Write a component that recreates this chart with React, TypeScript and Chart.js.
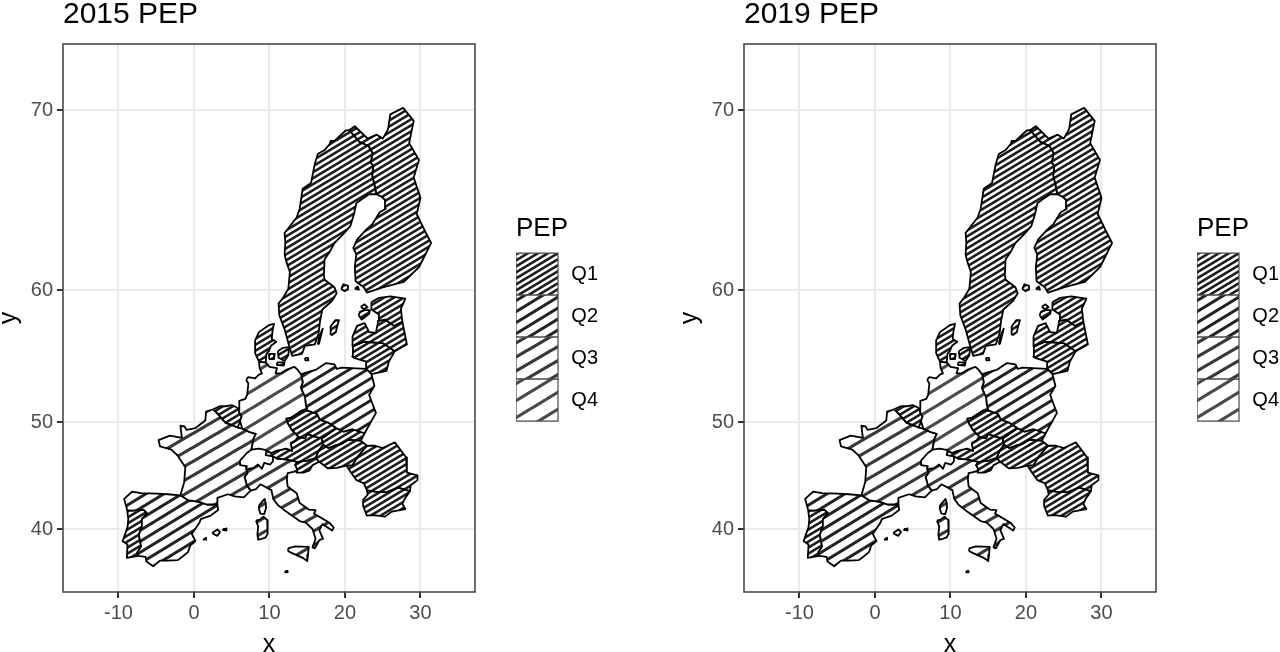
import React, { useEffect, useRef } from "react";
import { Chart, registerables } from "chart.js";

Chart.register(...registerables);

type Pt = [number, number];

const sweden: Pt[] = [[20.55,69.06],[21.9,68.5],[23.1,68.3],[23.65,67.95],[23.4,67.45],[23.75,67.3],[23.6,66.8],[23.9,66.3],[24.15,65.8],[23.2,65.8],[22.3,65.55],[21.5,65.3],[21.2,64.7],[20.7,64.0],[19.7,63.5],[18.6,63.0],[17.9,62.4],[17.3,62.0],[17.2,61.0],[17.3,60.7],[18.6,60.2],[18.9,59.8],[18.3,59.3],[17.0,58.7],[16.7,57.9],[16.5,57.0],[16.0,56.2],[14.7,56.1],[14.3,55.5],[13.0,55.35],[12.6,56.1],[12.0,57.3],[11.3,58.3],[11.2,59.1],[11.8,59.5],[12.5,60.1],[12.7,61.2],[12.2,61.9],[12.0,62.3],[12.1,63.0],[12.0,63.6],[13.6,64.5],[14.0,65.0],[14.4,66.1],[15.5,66.4],[16.0,67.4],[16.4,67.9],[17.3,68.1],[18.0,68.4],[18.1,68.55],[18.6,68.55],[20.1,69.05]];
const gotland: Pt[] = [[18.1,56.9],[18.1,57.5],[18.7,57.95],[19.2,57.95],[18.9,57.4],[18.8,57.1],[18.3,56.9]];
const oland: Pt[] = [[16.4,56.2],[16.6,56.8],[17.05,57.35],[16.8,56.8],[16.55,56.25]];
const finland: Pt[] = [[20.55,69.06],[21.3,69.25],[23.0,68.66],[24.2,68.85],[25.0,68.66],[25.7,69.1],[26.0,69.8],[27.7,70.1],[29.1,69.5],[28.5,68.44],[29.8,67.6],[29.1,66.7],[30.0,65.6],[29.5,64.7],[30.5,63.8],[31.4,63.0],[29.8,61.5],[27.8,60.55],[26.5,60.4],[25.0,60.2],[23.5,59.95],[22.9,59.85],[22.5,60.2],[21.4,60.6],[21.3,61.5],[21.5,62.3],[21.1,62.7],[21.6,63.2],[22.8,63.8],[23.6,64.1],[24.6,64.8],[25.4,65.0],[25.3,65.5],[24.7,65.7],[24.15,65.8],[23.9,66.3],[23.6,66.8],[23.75,67.3],[23.4,67.45],[23.65,67.95],[23.1,68.3],[21.9,68.5]];
const aland: Pt[] = [[19.5,60.1],[19.8,60.4],[20.4,60.3],[20.4,60.05],[19.9,59.95]];
const turku: Pt[] = [[21.3,60.1],[21.7,60.25],[21.85,60.05]];
const jutland: Pt[] = [[8.6,54.9],[8.1,55.55],[8.1,56.5],[8.6,57.1],[9.9,57.6],[10.6,57.7],[10.4,57.2],[10.3,56.6],[10.9,56.4],[10.2,56.1],[9.9,55.7],[9.6,55.5],[9.5,54.85]];
const zealand: Pt[] = [[11.1,55.7],[11.8,55.95],[12.6,56.0],[12.5,55.4],[12.0,54.95],[11.2,55.2]];
const funen: Pt[] = [[9.9,55.5],[10.7,55.5],[10.6,55.1],[10.0,55.1]];
const lolland: Pt[] = [[11.0,54.85],[12.0,54.85],[11.9,54.6],[11.1,54.65]];
const bornholm: Pt[] = [[14.7,55.2],[15.1,55.2],[15.15,55.0],[14.75,55.0]];
const germany: Pt[] = [[6.9,53.5],[7.2,53.7],[8.1,53.6],[8.6,53.9],[9.0,54.0],[8.7,54.4],[8.6,54.9],[9.5,54.85],[10.0,54.5],[11.0,54.4],[10.8,54.0],[11.5,54.0],[12.3,54.3],[13.3,54.5],[13.7,54.3],[14.2,53.9],[14.4,53.3],[14.15,52.85],[14.7,52.1],[14.8,51.5],[15.0,51.0],[14.3,51.0],[12.9,50.4],[12.2,50.3],[12.5,49.8],[13.0,49.3],[13.8,48.75],[13.4,48.4],[12.8,48.2],[13.0,47.5],[12.2,47.7],[10.9,47.5],[10.2,47.3],[9.6,47.55],[8.6,47.7],[7.6,47.6],[7.9,48.6],[8.2,49.0],[7.4,49.15],[6.4,49.45],[6.1,50.1],[6.3,50.5],[6.0,50.8],[6.0,51.8],[6.8,51.95],[7.05,52.3],[7.2,53.2]];
const poland: Pt[] = [[14.2,53.9],[14.5,54.0],[16.2,54.3],[17.5,54.8],[18.6,54.7],[18.9,54.35],[19.6,54.45],[22.8,54.35],[23.5,53.95],[23.9,53.0],[23.2,52.3],[23.6,51.6],[24.1,50.8],[22.6,49.05],[21.0,49.4],[19.8,49.2],[18.85,49.5],[17.7,50.0],[16.7,50.2],[16.3,50.7],[15.0,51.0],[14.8,51.5],[14.7,52.1],[14.15,52.85],[14.4,53.3]];
const czechia: Pt[] = [[12.2,50.3],[12.9,50.4],[14.3,51.0],[15.0,51.0],[16.3,50.7],[16.7,50.2],[17.7,50.0],[18.85,49.5],[17.5,48.85],[16.9,48.6],[16.0,48.75],[15.0,49.0],[14.7,48.6],[13.8,48.75],[13.0,49.3],[12.5,49.8]];
const slovakia: Pt[] = [[18.85,49.5],[19.8,49.2],[21.0,49.4],[22.6,49.05],[22.1,48.4],[20.5,48.5],[19.5,48.1],[18.8,48.0],[17.8,47.75],[17.1,48.05],[16.9,48.6],[17.5,48.85]];
const austria: Pt[] = [[9.6,47.55],[10.2,47.3],[10.9,47.5],[12.2,47.7],[13.0,47.5],[12.8,48.2],[13.4,48.4],[13.8,48.75],[14.7,48.6],[15.0,49.0],[16.0,48.75],[16.9,48.6],[17.1,48.05],[16.5,47.5],[16.1,46.85],[15.0,46.6],[13.7,46.5],[12.4,46.7],[11.0,46.8],[10.45,47.0],[9.5,47.1]];
const hungary: Pt[] = [[16.1,46.85],[16.5,47.5],[17.1,48.05],[17.8,47.75],[18.8,48.0],[19.5,48.1],[20.5,48.5],[22.1,48.4],[22.9,47.95],[21.7,47.0],[21.0,46.2],[20.2,46.15],[18.9,45.95],[17.7,45.9],[16.6,46.5]];
const slovenia: Pt[] = [[13.7,46.5],[15.0,46.6],[16.1,46.85],[16.6,46.5],[15.7,46.2],[15.3,45.7],[14.5,45.5],[13.6,45.5],[13.7,45.8],[13.4,46.2]];
const romania: Pt[] = [[22.9,47.95],[24.0,47.95],[25.0,47.75],[26.6,48.25],[28.1,46.9],[28.2,45.5],[29.6,45.25],[29.6,44.8],[28.7,44.3],[28.6,43.75],[27.0,44.1],[25.5,43.65],[24.0,43.7],[22.9,43.85],[22.5,44.5],[21.5,44.8],[20.7,45.6],[20.2,46.15],[21.0,46.2],[21.7,47.0]];
const bulgaria: Pt[] = [[22.9,43.85],[24.0,43.7],[25.5,43.65],[27.0,44.1],[28.6,43.75],[27.9,43.0],[27.6,42.5],[28.0,42.0],[26.2,41.75],[25.3,41.25],[23.8,41.4],[22.9,41.35],[22.4,42.3],[22.4,42.9],[23.0,43.4]];
const belgium: Pt[] = [[2.55,51.1],[3.4,51.35],[4.3,51.35],[5.0,51.45],[5.8,51.2],[6.0,50.8],[6.3,50.5],[6.1,50.1],[5.8,49.55],[4.9,49.8],[4.2,49.95],[3.1,50.75]];
const france: Pt[] = [[2.55,51.1],[3.1,50.75],[4.2,49.95],[4.9,49.8],[5.8,49.55],[6.4,49.45],[7.4,49.15],[8.2,49.0],[7.9,48.6],[7.6,47.6],[7.0,47.3],[6.1,46.6],[6.1,46.2],[7.0,46.1],[6.9,45.8],[7.1,45.5],[6.7,45.1],[7.0,44.3],[7.5,43.8],[6.6,43.15],[5.4,43.25],[4.5,43.45],[3.1,43.1],[3.1,42.45],[1.7,42.45],[0.7,42.7],[-0.7,42.85],[-1.8,43.35],[-1.3,44.6],[-1.15,46.0],[-2.2,47.1],[-3.0,47.6],[-4.5,47.9],[-4.7,48.45],[-3.2,48.85],[-1.6,48.65],[-1.8,49.7],[-1.25,49.65],[-1.0,49.35],[0.2,49.5],[1.5,50.15],[1.6,50.9]];
const corsica: Pt[] = [[8.6,42.35],[9.35,43.0],[9.5,42.6],[9.55,42.1],[9.3,41.5],[8.8,41.55],[8.6,42.0]];
const italy: Pt[] = [[7.1,45.5],[6.9,45.8],[7.9,45.95],[8.5,46.25],[9.0,45.85],[9.3,46.4],[10.1,46.25],[10.45,46.55],[10.45,47.0],[11.0,46.8],[12.4,46.7],[13.7,46.5],[13.4,46.2],[13.7,45.8],[13.6,45.65],[12.4,45.45],[12.3,44.9],[12.4,44.2],[13.6,43.55],[14.0,42.6],[15.2,41.95],[16.1,41.9],[15.9,41.55],[18.0,40.6],[18.5,40.15],[18.3,39.85],[17.0,40.5],[16.6,39.85],[17.1,39.0],[16.6,38.85],[16.0,38.0],[15.7,38.1],[16.1,39.0],[15.7,40.0],[14.8,40.65],[14.0,40.8],[12.3,41.7],[11.1,42.4],[10.5,43.0],[10.25,43.85],[8.8,44.4],[8.2,43.95],[7.5,43.8],[7.0,44.3],[6.7,45.1]];
const sicily: Pt[] = [[12.45,38.0],[13.4,38.2],[15.2,38.15],[15.1,37.3],[15.0,36.65],[14.4,37.0],[13.0,37.5],[12.5,37.7]];
const sardinia: Pt[] = [[8.2,40.85],[8.7,40.95],[9.2,41.25],[9.7,40.9],[9.8,40.3],[9.7,39.5],[9.5,39.15],[9.0,39.0],[8.5,38.9],[8.4,39.4],[8.5,40.3]];
const lampedusa: Pt[] = [[12.1,35.6],[12.4,35.6],[12.4,35.45],[12.1,35.45]];
const spain: Pt[] = [[-1.8,43.35],[-0.7,42.85],[0.7,42.7],[1.7,42.45],[3.1,42.45],[3.2,41.9],[2.2,41.35],[0.9,41.0],[0.7,40.6],[-0.3,39.5],[0.2,38.75],[-0.5,38.3],[-0.8,37.6],[-1.8,36.95],[-2.2,36.75],[-3.5,36.7],[-4.5,36.7],[-5.4,36.1],[-6.3,36.6],[-6.4,37.1],[-7.4,37.2],[-7.5,37.6],[-7.0,38.2],[-7.3,39.4],[-6.9,40.3],[-6.9,41.0],[-6.2,41.6],[-6.7,41.95],[-8.2,41.85],[-8.85,41.9],[-9.25,43.0],[-8.2,43.7],[-7.0,43.55],[-5.0,43.5],[-3.5,43.45]];
const mallorca: Pt[] = [[2.4,39.6],[3.1,39.95],[3.45,39.7],[3.1,39.3],[2.7,39.45]];
const menorca: Pt[] = [[3.85,40.0],[4.3,40.05],[4.3,39.85],[3.9,39.9]];
const ibiza: Pt[] = [[1.2,38.9],[1.6,39.1],[1.6,38.9]];
const portugal: Pt[] = [[-8.85,41.9],[-8.2,41.85],[-6.7,41.95],[-6.2,41.6],[-6.9,41.0],[-6.9,40.3],[-7.3,39.4],[-7.0,38.2],[-7.5,37.6],[-7.4,37.2],[-8.9,37.0],[-8.8,38.4],[-9.45,38.75],[-8.8,40.2],[-8.7,41.0]];
const estonia: Pt[] = [[23.5,59.2],[24.5,59.5],[26.0,59.6],[28.0,59.45],[27.4,58.75],[27.6,57.85],[26.5,57.55],[25.3,58.0],[24.4,57.9],[24.5,58.35],[23.5,58.7]];
const saaremaa: Pt[] = [[21.8,58.3],[22.0,58.55],[22.6,58.65],[23.3,58.65],[23.2,58.4],[22.7,58.2],[22.2,58.0]];
const hiiumaa: Pt[] = [[22.1,58.9],[22.6,59.05],[23.0,58.85],[22.5,58.7]];
const latvia: Pt[] = [[21.0,56.8],[21.6,57.55],[22.6,57.75],[23.2,57.1],[24.1,57.05],[24.4,57.9],[25.3,58.0],[26.5,57.55],[27.6,57.85],[28.2,56.2],[26.6,55.7],[25.0,56.3],[22.5,56.4],[21.05,56.05]];
const lithuania: Pt[] = [[21.05,56.05],[22.5,56.4],[25.0,56.3],[26.6,55.7],[25.8,54.9],[25.5,54.2],[23.5,53.95],[22.8,54.35],[22.8,54.9],[21.2,55.2],[20.95,55.3]];

const countries: Pt[][][] = [
  [sweden, gotland, oland], [finland, aland, turku], [jutland, zealand, funen, lolland, bornholm],
  [germany], [poland], [czechia], [slovakia], [austria], [hungary], [slovenia], [romania], [bulgaria],
  [belgium], [france, corsica], [italy, sicily, sardinia, lampedusa], [spain, mallorca, menorca, ibiza],
  [portugal], [estonia, saaremaa, hiiumaa], [latvia], [lithuania],
];
const quartiles2015 = [0,0,0, 3,1,0,0,0,0,0,0,0, 0,2,2,1, 0,0,0,0];
const quartiles2019 = [0,0,0, 3,1,0,0,0,0,0,0,0, 0,2,2,1, 0,0,0,0];

const legendLabels = ["Q1", "Q2", "Q3", "Q4"];
const xTicks = [-10, 0, 10, 20, 30];
const yTicks = [40, 50, 60, 70];

const merc = (lat: number) => Math.log(Math.tan(Math.PI / 4 + (lat * Math.PI) / 360));

function stripe(w: number, h: number, lw: number, color: string) {
  const c = document.createElement("canvas");
  c.width = w;
  c.height = h;
  const g = c.getContext("2d")!;
  g.fillStyle = "#fff";
  g.fillRect(0, 0, w, h);
  g.strokeStyle = color;
  g.lineWidth = lw;
  for (const dx of [-w, 0, w]) {
    g.beginPath();
    g.moveTo(dx - w, 2 * h);
    g.lineTo(dx + 2 * w, -h);
    g.stroke();
  }
  return g.createPattern(c, "repeat")!;
}

function makePatterns() {
  return [
    stripe(10, 6, 2.6, "#1c1c1c"),
    stripe(18, 11, 3, "#222222"),
    stripe(24, 14, 3.2, "#383838"),
    stripe(28, 17, 3.2, "#4a4a4a"),
  ];
}

const FONT = "'Liberation Sans', Arial, sans-serif";

const panelBox = {
  id: "panelBox",
  afterLayout(chart: any) {
    const l = chart.legend;
    l.left = 516;
    l.right = 598;
    l.width = 82;
  },
  afterDatasetsDraw(chart: any) {
    const { left, top, width, height } = chart.chartArea;
    const c = chart.ctx;
    c.save();
    c.strokeStyle = "#4a4a4a";
    c.lineWidth = 1.6;
    c.strokeRect(left, top, width, height);
    c.restore();
  },
};

function buildChart(canvas: HTMLCanvasElement, title: string, q: number[]) {
  const patterns = makePatterns();
  const datasets: any[] = [];
  countries.forEach((polys, i) => {
    polys.forEach((poly) => {
      datasets.push({
        data: [...poly, poly[0]].map(([x, lat]) => ({ x, y: merc(lat) })),
        showLine: true,
        fill: "shape",
        backgroundColor: patterns[q[i]],
        borderColor: "#000",
        borderWidth: 1.8,
        borderJoinStyle: "round",
        pointRadius: 0,
        tension: 0,
      });
    });
  });
  const gridCfg = { color: "#ebebeb", lineWidth: 2, tickColor: "#333", tickWidth: 2, tickLength: 6 };
  return new Chart(canvas, {
    type: "scatter",
    data: { datasets },
    plugins: [panelBox],
    options: {
      animation: false,
      responsive: false,
      events: [],
      layout: { padding: { right: 44, left: 0, top: 0, bottom: 0 } },
      plugins: {
        tooltip: { enabled: false },
        title: {
          display: true,
          text: title,
          align: "start",
          fullSize: false,
          color: "#000",
          font: { family: FONT, size: 30, lineHeight: 1, weight: "normal" },
          padding: { top: 0, bottom: 14 },
        },
        legend: {
          display: true,
          position: "right",
          fullSize: false,
          maxWidth: 80,
          title: {
            display: true,
            text: "PEP",
            position: "start",
            color: "#000",
            font: { family: FONT, size: 26, weight: "normal", lineHeight: 1.2 },
            padding: { top: 1, bottom: 6 },
          },
          labels: {
            boxWidth: 42,
            boxHeight: 42,
            padding: 0,
            textAlign: "right",
            color: "#000",
            font: { family: FONT, size: 20 },
            generateLabels: () =>
              legendLabels.map((text, i) => ({
                text,
                fillStyle: patterns[i],
                strokeStyle: "#4a4a4a",
                lineWidth: 1.2,
                hidden: false,
                datasetIndex: i,
              })),
          },
        },
      },
      scales: {
        x: {
          type: "linear",
          min: -17.35,
          max: 37.22,
          grid: gridCfg,
          border: { display: false },
          afterBuildTicks: (s: any) => {
            s.ticks = xTicks.map((value) => ({ value }));
          },
          afterFit: (s: any) => {
            s.height = 60;
          },
          ticks: {
            color: "#4d4d4d",
            padding: 3,
            maxRotation: 0,
            autoSkip: false,
            font: { family: FONT, size: 20 },
            callback: (v: any) => String(v),
          },
          title: {
            display: true,
            text: "x",
            color: "#000",
            font: { family: FONT, size: 25, lineHeight: 1 },
            padding: { top: 0, bottom: -6 },
          },
        },
        y: {
          type: "linear",
          min: 0.6167,
          max: 1.8887,
          grid: gridCfg,
          border: { display: false },
          afterBuildTicks: (s: any) => {
            s.ticks = yTicks.map((lat) => ({ value: merc(lat) }));
          },
          afterFit: (s: any) => {
            s.width = 63;
          },
          ticks: {
            color: "#4d4d4d",
            padding: 4,
            autoSkip: false,
            font: { family: FONT, size: 20 },
            callback: (_v: any, i: number) => String(yTicks[i]),
          },
          title: {
            display: true,
            text: "y",
            color: "#000",
            font: { family: FONT, size: 25, lineHeight: 1 },
            padding: { top: -3, bottom: 0 },
          },
        },
      },
    } as any,
  } as any);
}

export default function App() {
  const a = useRef<HTMLCanvasElement>(null);
  const b = useRef<HTMLCanvasElement>(null);
  useEffect(() => {
    const c1 = buildChart(a.current!, "2015 PEP", quartiles2015);
    const c2 = buildChart(b.current!, "2019 PEP", quartiles2019);
    return () => {
      c1.destroy();
      c2.destroy();
    };
  }, []);
  return (
    <div style={{ position: "fixed", left: 0, top: 0, width: 1280, height: 652, background: "#fff", overflow: "hidden" }}>
      <canvas ref={a} width={599} height={652} style={{ position: "absolute", left: 0, top: 0 }} />
      <canvas ref={b} width={599} height={652} style={{ position: "absolute", left: 681, top: 0 }} />
    </div>
  );
}
